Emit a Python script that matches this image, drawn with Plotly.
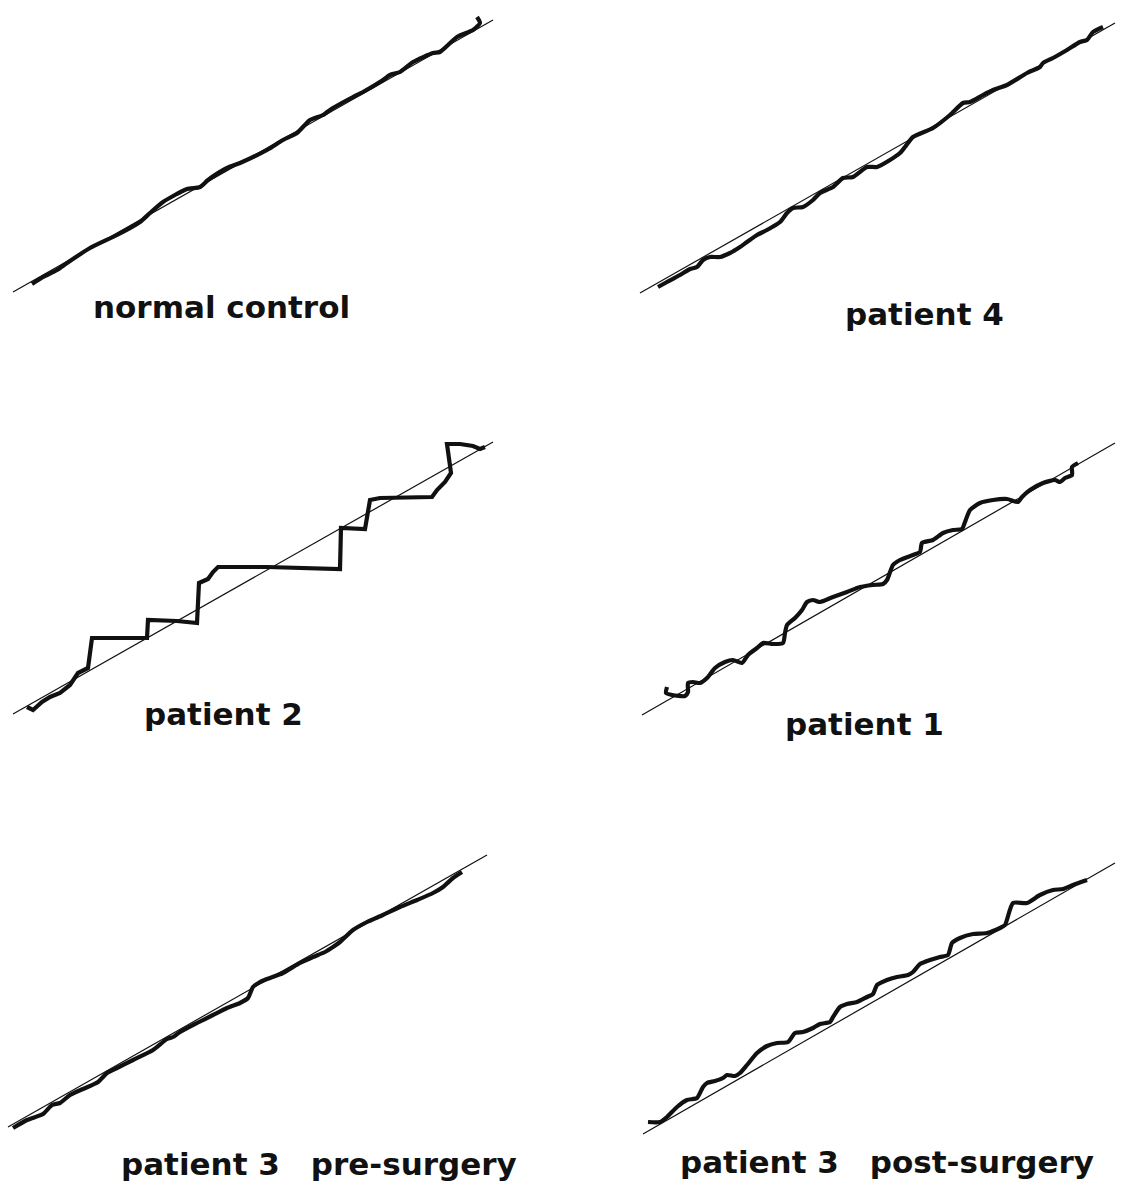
import plotly.graph_objects as go

FIG_W, FIG_H = 1130, 1193

# ---- traced pen paths (horizontal / vertical pen displacement, px at print scale) ----
# The thin reference line of every panel runs from (0, 0) to its *_end point.

normal_x = [19, 30, 44, 54, 77, 104, 127, 137, 150, 174, 187, 195, 214, 227, 254, 270, 284,
            297, 310, 317, 320, 340, 350, 370, 377, 387, 400, 420, 427, 444, 460, 467, 464]
normal_y = [8, 15, 22, 29, 44, 57, 70, 79, 90, 103, 105, 112, 124, 129, 142, 152, 159,
            172, 177, 182, 184, 195, 200, 212, 217, 220, 230, 239, 240, 255, 262, 269, 275]
normal_end = (480, 272)

p4_x = [18, 27, 40, 50, 57, 63, 70, 80, 90, 100, 107, 117, 127, 140, 147, 153, 163, 173, 180,
        193, 203, 213, 227, 237, 250, 260, 265, 273, 293, 310, 323, 330, 343, 353, 367, 387,
        400, 403, 413, 427, 440, 447, 453, 463]
p4_y = [6, 11, 18, 24, 26, 33, 36, 36, 40, 46, 51, 58, 63, 71, 80, 85, 86, 93, 100,
        106, 115, 116, 126, 126, 133, 140, 146, 156, 165, 178, 190, 191, 198, 203, 208, 220,
        226, 230, 235, 243, 251, 253, 261, 266]
p4_end = (475, 270)

p2_x = [14, 20, 29, 37, 47, 57, 65, 70, 75, 79, 134, 135, 164, 184, 186, 195, 200, 205, 254,
        327, 328, 352, 357, 367, 419, 424, 432, 438, 434, 447, 460, 467, 472]
p2_y = [7, 4, 12, 17, 21, 29, 41, 43, 46, 76, 76, 94, 93, 91, 131, 135, 142, 147, 147,
        145, 186, 185, 214, 216, 217, 224, 232, 241, 270, 270, 268, 265, 267]
p2_end = (480, 272)

p1_x = [25, 24, 30, 43, 46, 46, 51, 58, 65, 73, 83, 91, 100, 106, 115, 121, 131, 141, 143,
        145, 153, 160, 165, 171, 178, 191, 205, 218, 231, 241, 245, 251, 258, 271, 278, 280,
        291, 301, 311, 320, 323, 328, 338, 351, 365, 376, 380, 388, 401, 413, 418, 423, 430,
        430, 436]
p1_y = [28, 22, 20, 19, 23, 32, 33, 32, 37, 47, 53, 55, 52, 60, 67, 72, 71, 72, 82,
        90, 97, 105, 113, 115, 113, 118, 123, 128, 130, 131, 135, 150, 155, 160, 163, 172,
        175, 182, 185, 186, 193, 205, 212, 215, 216, 213, 218, 225, 232, 235, 233, 237, 240,
        248, 252]
p1_end = (473, 272)

pre_x = [5, 19, 35, 44, 52, 62, 75, 90, 99, 109, 125, 145, 159, 165, 172, 189, 205, 219,
         232, 240, 245, 252, 259, 275, 292, 305, 317, 325, 332, 345, 359, 375, 392, 409,
         425, 435, 445, 454]
pre_y = [-1, 7, 13, 22, 24, 32, 38, 45, 54, 59, 67, 77, 88, 90, 95, 104, 112, 119,
         124, 129, 140, 145, 148, 154, 164, 170, 175, 180, 185, 197, 205, 212, 220, 227,
         234, 240, 249, 255]
pre_end = (479, 272)

post_x = [5, 17, 24, 34, 44, 54, 60, 64, 72, 80, 84, 92, 97, 104, 114, 124, 134, 145, 152,
          160, 170, 177, 187, 190, 197, 204, 214, 224, 230, 234, 244, 254, 265, 270, 277,
          287, 297, 305, 309, 317, 330, 344, 357, 362, 370, 384, 397, 410, 420, 430, 444]
post_y = [12, 12, 17, 27, 34, 36, 47, 51, 53, 56, 59, 58, 61, 69, 81, 88, 91, 92, 101,
          102, 106, 110, 112, 117, 127, 130, 132, 137, 140, 149, 154, 157, 159, 162, 170,
          174, 177, 179, 191, 196, 200, 201, 206, 209, 231, 231, 239, 244, 245, 249, 254]
post_end = (472, 271)

labels = ["normal control", "patient 4", "patient 2", "patient 1",
          "patient 3\u2003pre-surgery", "patient 3\u2003post-surgery"]

panels = [
    (normal_x, normal_y, normal_end),
    (p4_x, p4_y, p4_end),
    (p2_x, p2_y, p2_end),
    (p1_x, p1_y, p1_end),
    (pre_x, pre_y, pre_end),
    (post_x, post_y, post_end),
]
# patient 2 moves in abrupt steps; the other pens are drawn as smooth strokes
stepwise = [False, False, True, False, False, False]

# ---- page layout (pixels) ----
# start of each reference line on the page
origins = [(13, 292), (640, 293), (13, 714), (642, 715), (8, 1127), (643, 1134)]
# panel boxes
col_edges = [(0, 565), (565, 1130)]
row_edges = [(0, 398), (398, 796), (796, 1193)]
# label centre x and baseline y
label_pos = [(221, 318), (924, 325), (223, 725), (864, 735), (319, 1175), (887, 1173)]
FONT_SIZE = 31

INK = "#111111"

fig = go.Figure()
layout_axes = {}
for i, ((xs, ys, end), (ox, oy)) in enumerate(zip(panels, origins)):
    n = i + 1
    bx0, bx1 = col_edges[i % 2]
    by0, by1 = row_edges[i // 2]
    xa = "x" if n == 1 else f"x{n}"
    ya = "y" if n == 1 else f"y{n}"
    xkey = "xaxis" if n == 1 else f"xaxis{n}"
    ykey = "yaxis" if n == 1 else f"yaxis{n}"
    layout_axes[xkey] = dict(domain=[bx0 / FIG_W, bx1 / FIG_W],
                             range=[bx0 - ox, bx1 - ox], visible=False,
                             anchor=ya, fixedrange=True)
    layout_axes[ykey] = dict(domain=[1 - by1 / FIG_H, 1 - by0 / FIG_H],
                             range=[oy - by1, oy - by0], visible=False,
                             anchor=xa, fixedrange=True)

    # thin reference (ideal) line
    fig.add_trace(go.Scatter(x=[0, end[0]], y=[0, end[1]], mode="lines",
                             line=dict(color=INK, width=1.2),
                             xaxis=xa, yaxis=ya, hoverinfo="skip"))
    # traced pen path
    pen = dict(color=INK, width=4.2)
    if not stepwise[i]:
        pen.update(shape="spline", smoothing=0.6)
    fig.add_trace(go.Scatter(x=xs, y=ys, mode="lines", line=pen,
                             xaxis=xa, yaxis=ya, hoverinfo="skip"))

annotations = []
for text, (cx, base) in zip(labels, label_pos):
    centre = base - 0.346 * FONT_SIZE
    annotations.append(dict(
        text=text, x=cx / FIG_W, y=1 - centre / FIG_H,
        xref="paper", yref="paper", xanchor="center", yanchor="middle",
        showarrow=False,
        font=dict(family="DejaVu Sans", size=FONT_SIZE, color=INK, weight="bold"),
    ))

fig.update_layout(
    width=FIG_W, height=FIG_H,
    margin=dict(l=0, r=0, t=0, b=0),
    paper_bgcolor="white", plot_bgcolor="white",
    showlegend=False,
    annotations=annotations,
    **layout_axes,
)

fig.write_html("out.html", config={"displayModeBar": False})
